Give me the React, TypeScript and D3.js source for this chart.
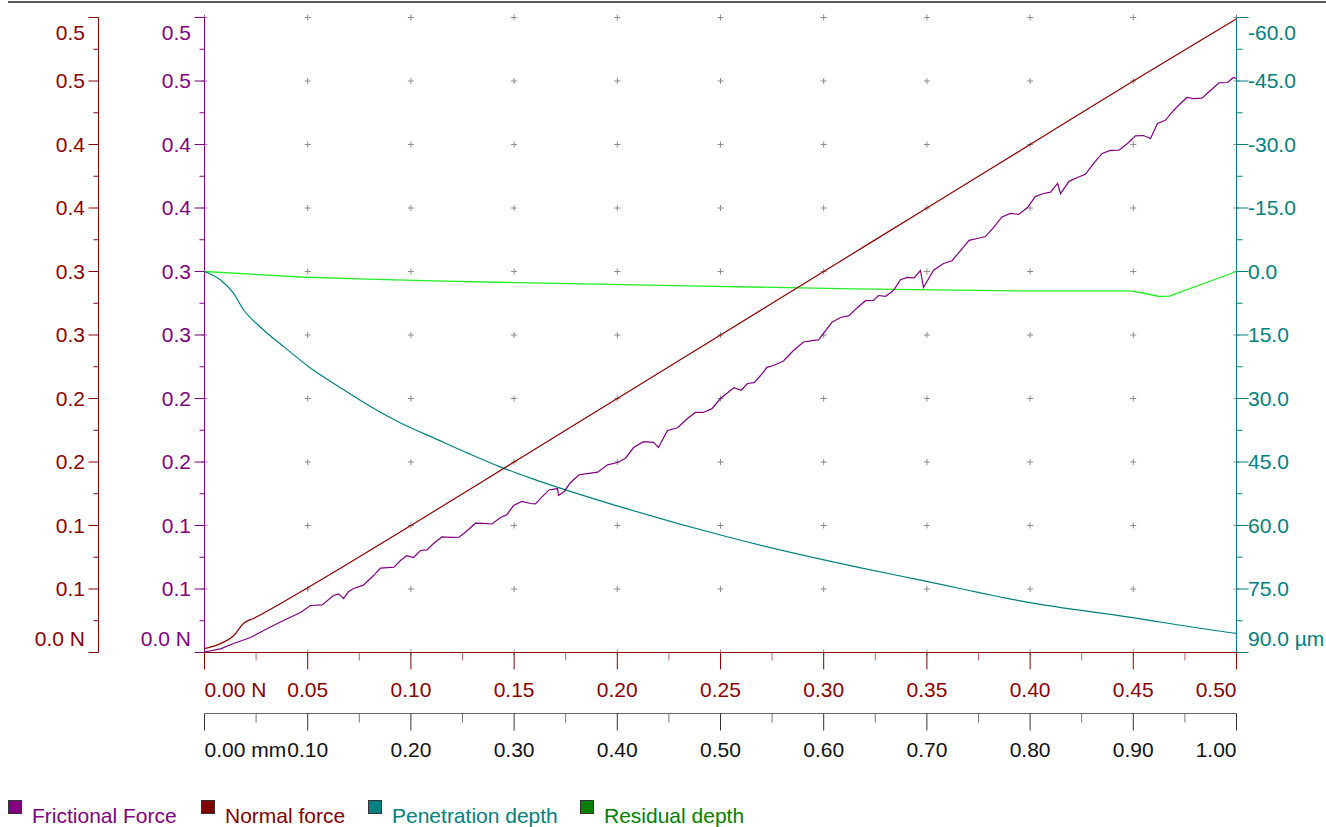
import React from "react";
import * as d3 from "d3";

// ---------- data ----------
// Normal force (N) vs distance (mm)
const normalDist = [0, 0.0155, 0.028, 0.038, 0.048, 0.1, 0.2, 0.3, 0.4, 0.5, 0.6, 0.7, 0.8, 0.9, 1.0];
const normalForce = [0.003, 0.007, 0.013, 0.023, 0.027, 0.051, 0.1, 0.15, 0.2, 0.25, 0.3, 0.35, 0.4, 0.45, 0.499];

// Frictional force (N) vs distance (mm): [distance, force]
const frictionSeries: [number, number][] = [
  [0, 0.0004], [0.0155, 0.0029], [0.0281, 0.0071], [0.0446, 0.0118], [0.061, 0.0189], [0.0766, 0.0252],
  [0.093, 0.0315], [0.1027, 0.037], [0.114, 0.0375], [0.125, 0.0449], [0.13, 0.0462], [0.1347, 0.0425],
  [0.1395, 0.0478], [0.1444, 0.0504], [0.154, 0.053], [0.1638, 0.0606], [0.1705, 0.0665], [0.1773, 0.0669],
  [0.1836, 0.0672], [0.1899, 0.0724], [0.196, 0.0762], [0.2025, 0.0748], [0.2093, 0.0803], [0.2156, 0.0808],
  [0.2219, 0.0858], [0.23, 0.091], [0.2384, 0.0906], [0.2466, 0.0908], [0.2548, 0.0961], [0.2625, 0.1018],
  [0.2703, 0.1016], [0.2785, 0.1012], [0.2868, 0.1063], [0.293, 0.1085], [0.2994, 0.1157], [0.3076, 0.119],
  [0.3159, 0.1173], [0.3207, 0.117], [0.3256, 0.1213], [0.3338, 0.128], [0.3421, 0.1291], [0.343, 0.1236],
  [0.3488, 0.127], [0.3547, 0.1339], [0.3629, 0.14], [0.3711, 0.1409], [0.381, 0.142], [0.3905, 0.1478],
  [0.4002, 0.1496], [0.408, 0.153], [0.4157, 0.1614], [0.4254, 0.166], [0.4351, 0.1654], [0.4399, 0.1614],
  [0.4486, 0.1748], [0.4583, 0.177], [0.468, 0.1843], [0.4757, 0.189], [0.4835, 0.189], [0.4917, 0.192],
  [0.5, 0.2], [0.513, 0.2085], [0.52, 0.2065], [0.5262, 0.2118], [0.5325, 0.2125], [0.5388, 0.2181],
  [0.545, 0.2245], [0.5514, 0.226], [0.561, 0.2295], [0.5707, 0.2378], [0.5804, 0.2445], [0.5901, 0.2457],
  [0.595, 0.2462], [0.5998, 0.2512], [0.608, 0.26], [0.6163, 0.2638], [0.6245, 0.2652], [0.6328, 0.2717],
  [0.6405, 0.277], [0.6483, 0.2772], [0.6531, 0.2811], [0.66, 0.2805], [0.6676, 0.285], [0.6744, 0.2935],
  [0.6812, 0.2953], [0.6875, 0.295], [0.6938, 0.3008], [0.6967, 0.2874], [0.7064, 0.301], [0.7161, 0.3063],
  [0.7243, 0.3085], [0.7326, 0.3165], [0.7408, 0.3245], [0.749, 0.326], [0.7567, 0.3275], [0.7645, 0.3346],
  [0.7727, 0.343], [0.781, 0.3457], [0.789, 0.345], [0.7975, 0.3504], [0.805, 0.359], [0.813, 0.3614],
  [0.8198, 0.3625], [0.8266, 0.3693], [0.8295, 0.3614], [0.8377, 0.371], [0.8459, 0.374], [0.8536, 0.3765],
  [0.8614, 0.385], [0.8697, 0.393], [0.8779, 0.3953], [0.886, 0.3955], [0.8944, 0.4008], [0.902, 0.4068],
  [0.9099, 0.4071], [0.9167, 0.4047], [0.9234, 0.4165], [0.931, 0.419], [0.939, 0.4268], [0.9457, 0.4323],
  [0.952, 0.437], [0.9583, 0.4362], [0.9665, 0.4365], [0.9748, 0.4425], [0.983, 0.4485], [0.9913, 0.4488],
  [0.9971, 0.4528], [1.0, 0.452],
];

// Penetration depth (µm) vs distance (mm)
const penDist = [0, 0.0155, 0.028, 0.038, 0.054, 0.077, 0.1, 0.132, 0.158, 0.19, 0.222, 0.255, 0.287, 0.316, 0.403, 0.51, 0.636, 0.694, 0.797, 0.894, 0.997, 1.0];
const penDepth = [0, 2.0, 5.1, 9.1, 13.1, 17.8, 22.3, 27.5, 31.5, 35.8, 39.3, 42.9, 46.2, 48.8, 55.6, 62.9, 70.0, 72.9, 78.1, 81.6, 85.4, 85.5];

// Residual depth (µm) vs distance (mm)
const resDist = [0, 0.093, 0.158, 0.222, 0.316, 0.468, 0.629, 0.797, 0.897, 0.912, 0.925, 0.935, 1.0];
const resDepth = [0, 1.3, 1.8, 2.2, 2.7, 3.4, 4.1, 4.6, 4.6, 5.2, 5.9, 5.8, 0];

// ticks
const forceTicks = [0, 0.05, 0.1, 0.15, 0.2, 0.25, 0.3, 0.35, 0.4, 0.45, 0.5];
const forceTickLabels = ["0.0 N", "0.1", "0.1", "0.2", "0.2", "0.3", "0.3", "0.4", "0.4", "0.5", "0.5"];
const depthTicks = [-60, -45, -30, -15, 0, 15, 30, 45, 60, 75, 90];
const depthTickLabels = ["-60.0", "-45.0", "-30.0", "-15.0", "0.0", "15.0", "30.0", "45.0", "60.0", "75.0", "90.0 µm"];
const loadTicks = [0, 0.05, 0.1, 0.15, 0.2, 0.25, 0.3, 0.35, 0.4, 0.45, 0.5];
const loadTickLabels = ["0.00 N", "0.05", "0.10", "0.15", "0.20", "0.25", "0.30", "0.35", "0.40", "0.45", "0.50"];
const distTicks = [0, 0.1, 0.2, 0.3, 0.4, 0.5, 0.6, 0.7, 0.8, 0.9, 1.0];
const distTickLabels = ["0.00 mm", "0.10", "0.20", "0.30", "0.40", "0.50", "0.60", "0.70", "0.80", "0.90", "1.00"];

const legendItems = [
  { name: "Frictional Force", color: "#800080" },
  { name: "Normal force", color: "#800000" },
  { name: "Penetration depth", color: "#008080" },
  { name: "Residual depth", color: "#008000" },
];

// ---------- layout ----------
const W = 1326;
const H = 827;
const X0 = 204.5;
const X1 = 1236.5;
const Y0 = 17.5;
const Y1 = 652.5;
const RED = "#8B0000";
const PURPLE = "#800080";
const TEAL = "#008080";
const LIME = "#22ee22";
const FONT = "'Liberation Sans', Arial, sans-serif";
const FS = 21;

export default function App() {
  const x = d3.scaleLinear().domain([0, 1]).range([X0, X1]);
  const xLoad = d3.scaleLinear().domain([0, 0.5]).range([X0, X1]);
  const yF = d3.scaleLinear().domain([0, 0.5]).range([Y1, Y0]);
  const yD = d3.scaleLinear().domain([-60, 90]).range([Y0, Y1]);

  const smoothF =
    d3.line<number>().x((_, i) => x(normalDist[i])).y((v) => yF(v)).curve(d3.curveMonotoneX)(normalForce) || "";
  const frictionPath =
    d3.line<[number, number]>().x((p) => x(p[0])).y((p) => yF(p[1]))(frictionSeries) || "";
  const penPath =
    d3.line<number>().x((_, i) => x(penDist[i])).y((v) => yD(v)).curve(d3.curveMonotoneX)(penDepth) || "";
  const resPath =
    d3.line<number>().x((_, i) => x(resDist[i])).y((v) => yD(v))(resDepth) || "";

  const minorF = forceTicks.slice(0, -1).map((v, i) => (v + forceTicks[i + 1]) / 2);
  const minorD = depthTicks.slice(0, -1).map((v, i) => (v + depthTicks[i + 1]) / 2);
  const minorL = loadTicks.slice(0, -1).map((v, i) => (v + loadTicks[i + 1]) / 2);
  const minorX = distTicks.slice(0, -1).map((v, i) => (v + distTicks[i + 1]) / 2);

  const labelY = (i: number, n: number, y: number) => (i === 0 ? y - 14 : i === n - 1 ? y + 15 : y);
  const labelYD = (i: number, n: number, y: number) => (i === 0 ? y + 15 : i === n - 1 ? y - 14 : y);

  const LEFT_RED_X = 98.5;
  const YB1 = 652.5;
  const YB2 = 713.5;

  const legendX = [8, 201, 368, 580];

  return (
    <svg
      width={W}
      height={H}
      style={{ position: "absolute", left: 0, top: 0, background: "#fff" }}
      fontFamily={FONT}
      fontSize={FS}
    >
      <line x1={8} x2={W} y1={2} y2={2} stroke="#222" strokeWidth={1.6} />

      {/* grid crosses */}
      {distTicks.map((dv) =>
        forceTicks.map((fv) => (
          <g key={`g${dv}-${fv}`} stroke="#8c8c8c" strokeWidth={1}>
            <line x1={x(dv) - 3} x2={x(dv) + 3} y1={yF(fv)} y2={yF(fv)} />
            <line x1={x(dv)} x2={x(dv)} y1={yF(fv) - 3} y2={yF(fv) + 3} />
          </g>
        ))
      )}

      {/* left red axis */}
      <g stroke={RED}>
        <line x1={LEFT_RED_X} x2={LEFT_RED_X} y1={Y0} y2={Y1} />
        {forceTicks.map((v) => (
          <line key={`lr${v}`} x1={LEFT_RED_X - 10} x2={LEFT_RED_X} y1={yF(v)} y2={yF(v)} />
        ))}
        {minorF.map((v) => (
          <line key={`lrm${v}`} x1={LEFT_RED_X - 5} x2={LEFT_RED_X} y1={yF(v)} y2={yF(v)} />
        ))}
      </g>
      {forceTicks.map((v, i) => (
        <text key={`lrt${v}`} x={85} y={labelY(i, forceTicks.length, yF(v))} dy="0.35em" textAnchor="end" fill={RED}>
          {forceTickLabels[i]}
        </text>
      ))}

      {/* left purple axis */}
      <g stroke={PURPLE}>
        <line x1={X0} x2={X0} y1={Y0} y2={Y1} />
        {forceTicks.map((v) => (
          <line key={`lp${v}`} x1={X0 - 10} x2={X0} y1={yF(v)} y2={yF(v)} />
        ))}
        {minorF.map((v) => (
          <line key={`lpm${v}`} x1={X0 - 5} x2={X0} y1={yF(v)} y2={yF(v)} />
        ))}
      </g>
      {forceTicks.map((v, i) => (
        <text key={`lpt${v}`} x={191} y={labelY(i, forceTicks.length, yF(v))} dy="0.35em" textAnchor="end" fill={PURPLE}>
          {forceTickLabels[i]}
        </text>
      ))}

      {/* right teal axis */}
      <g stroke={TEAL}>
        <line x1={X1} x2={X1} y1={Y0} y2={Y1} />
        {depthTicks.map((v) => (
          <line key={`rt${v}`} x1={X1} x2={X1 + 12} y1={yD(v)} y2={yD(v)} />
        ))}
        {minorD.map((v) => (
          <line key={`rtm${v}`} x1={X1} x2={X1 + 6} y1={yD(v)} y2={yD(v)} />
        ))}
      </g>
      {depthTicks.map((v, i) => (
        <text key={`rtt${v}`} x={1248} y={labelYD(i, depthTicks.length, yD(v))} dy="0.35em" textAnchor="start" fill={TEAL}>
          {depthTickLabels[i]}
        </text>
      ))}

      {/* bottom red load axis */}
      <g stroke={RED}>
        <line x1={X0} x2={X1} y1={YB1} y2={YB1} />
        {loadTicks.map((v) => (
          <line key={`br${v}`} x1={xLoad(v)} x2={xLoad(v)} y1={YB1} y2={YB1 + 17} />
        ))}
        {minorL.map((v) => (
          <line key={`brm${v}`} x1={xLoad(v)} x2={xLoad(v)} y1={YB1} y2={YB1 + 8} strokeOpacity={0.6} />
        ))}
      </g>
      {loadTicks.map((v, i) => (
        <text
          key={`brt${v}`}
          x={xLoad(v)}
          y={690}
          dy="0.35em"
          textAnchor={i === 0 ? "start" : i === loadTicks.length - 1 ? "end" : "middle"}
          fill={RED}
        >
          {loadTickLabels[i]}
        </text>
      ))}

      {/* bottom black distance axis */}
      <g stroke="#333">
        <line x1={X0} x2={X1} y1={YB2} y2={YB2} stroke="#666" />
        {distTicks.map((v) => (
          <line key={`bk${v}`} x1={x(v)} x2={x(v)} y1={YB2} y2={YB2 + 17} />
        ))}
        {minorX.map((v) => (
          <line key={`bkm${v}`} x1={x(v)} x2={x(v)} y1={YB2} y2={YB2 + 9} stroke="#777" />
        ))}
      </g>
      {distTicks.map((v, i) => (
        <text
          key={`bkt${v}`}
          x={x(v)}
          y={750}
          dy="0.35em"
          textAnchor={i === 0 ? "start" : i === distTicks.length - 1 ? "end" : "middle"}
          fill="#111"
        >
          {distTickLabels[i]}
        </text>
      ))}

      {/* series */}
      <path d={resPath} fill="none" stroke={LIME} strokeWidth={1.3} />
      <path d={penPath} fill="none" stroke={TEAL} strokeWidth={1.2} />
      <path d={smoothF} fill="none" stroke={RED} strokeWidth={1.2} />
      <path d={frictionPath} fill="none" stroke={PURPLE} strokeWidth={1.2} />

      {/* legend */}
      {legendItems.map((it, i) => (
        <g key={it.name}>
          <rect x={legendX[i] + 0.5} y={800.5} width={13} height={13} fill={it.color} stroke="#333" strokeWidth={1} />
          <text x={legendX[i] + 24} y={823} fill={it.color}>
            {it.name}
          </text>
        </g>
      ))}
    </svg>
  );
}
